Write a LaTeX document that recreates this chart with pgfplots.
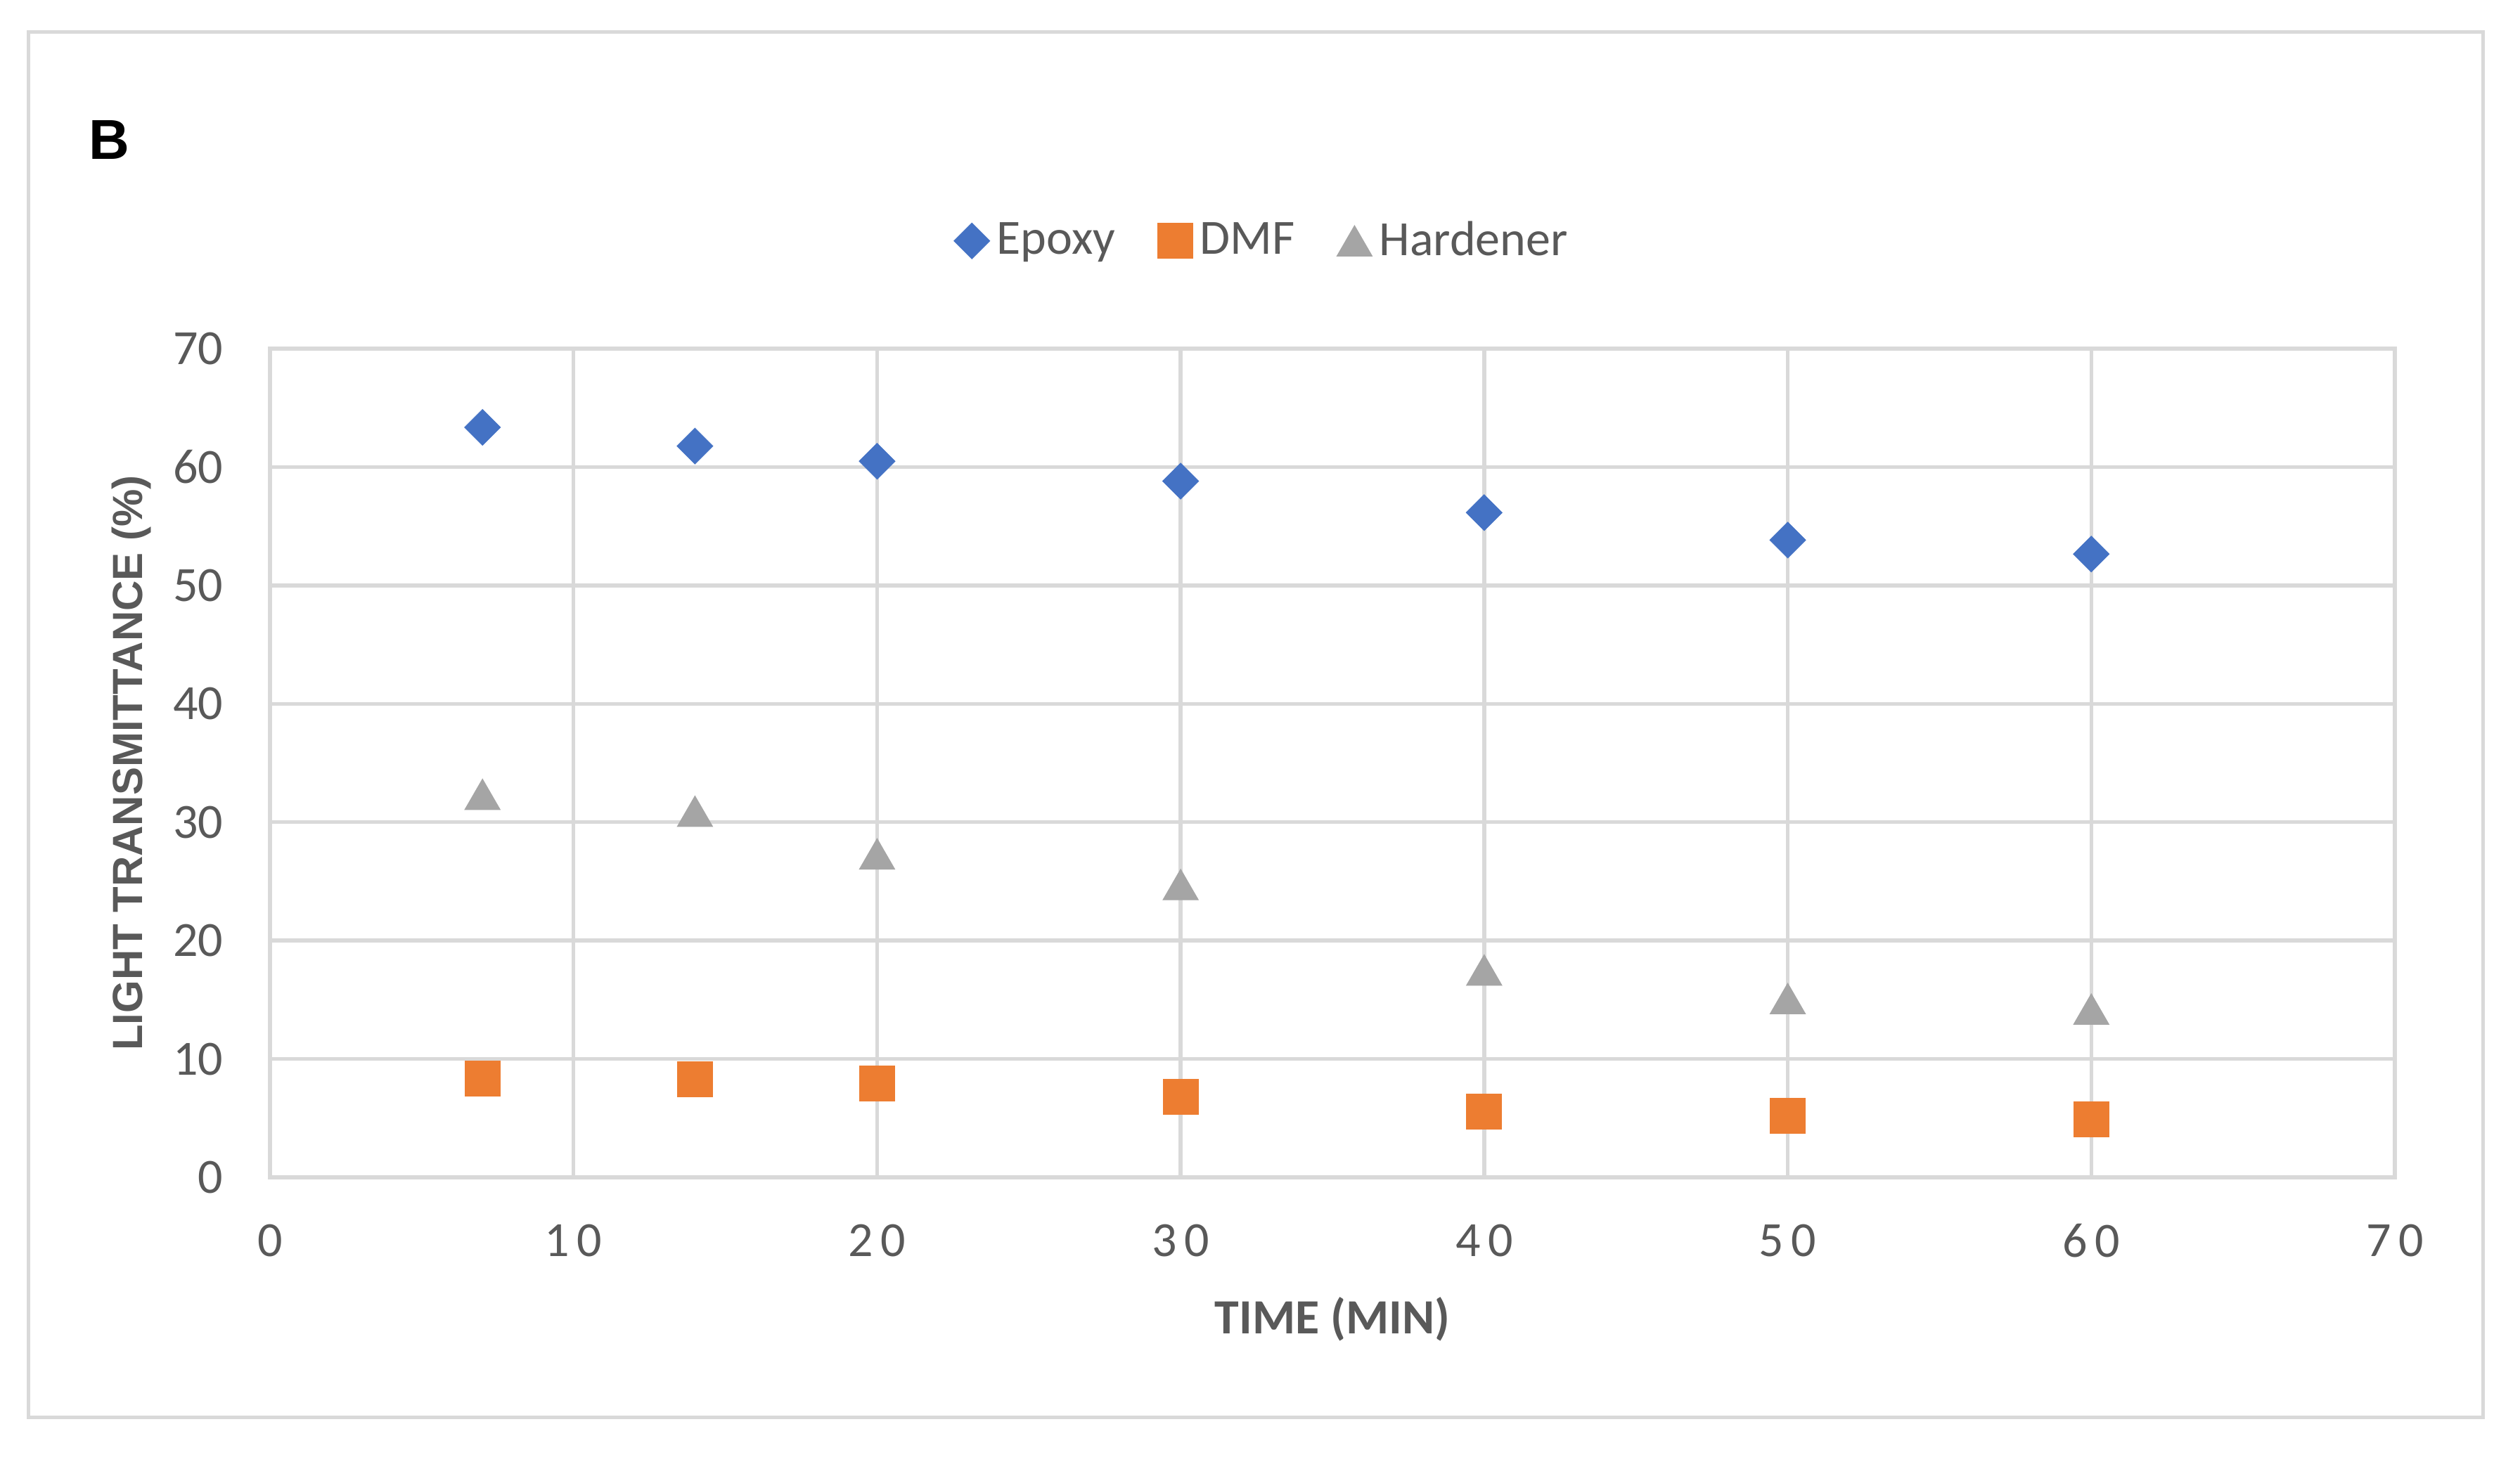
\documentclass[border=0pt]{standalone}
\usepackage{fontspec}
\setmainfont{Carlito}
\newfontfamily\arialfont{Liberation Sans}
\newfontfamily\spacedfont[LetterSpace=15]{Carlito}
\usepackage{pgfplots}
\pgfplotsset{compat=1.18}
\definecolor{cEpoxy}{HTML}{4472C4}
\definecolor{cDMF}{HTML}{ED7D31}
\definecolor{cHard}{HTML}{A5A5A5}
\definecolor{gridc}{HTML}{D9D9D9}
\definecolor{txt}{HTML}{595959}
\begin{document}
\begin{tikzpicture}
\path[use as bounding box] (-76.8pt,-80.8pt) rectangle (640pt,335pt);
\draw[gridc, line width=1pt] (-68.6pt,-68.2pt) rectangle (629.4pt,325.8pt);
\node[font=\arialfont\bfseries\fontsize{16}{19}\selectfont, text=black] at (-45.8pt,295.2pt) {B};
\begin{axis}[
  at={(0,0)}, anchor=south west,
  scale only axis, width=604.4pt, height=235.8pt,
  xmin=0, xmax=70, ymin=0, ymax=70,
  xtick={0,10,...,70}, ytick={0,10,...,70},
  grid=major,
  major grid style={gridc, line width=1.1pt},
  axis line style={gridc, line width=1.1pt},
  tick style={draw=none},
  /pgf/number format/assume math mode=true,
  yticklabel style={font=\fontsize{14}{17}\selectfont, text=txt, anchor=east, inner sep=0pt, xshift=-13.2pt},
  xticklabel style={font=\spacedfont\fontsize{14}{17}\selectfont, text=txt, anchor=center, inner sep=0pt, yshift=-18pt},
  xlabel={TIME (MIN)},
  ylabel={LIGHT TRANSMITTANCE (\%)},
  xlabel style={font=\bfseries\fontsize{14}{17}\selectfont, text=txt, at={(axis description cs:0.5,-0.1713)}, anchor=center},
  ylabel style={font=\arialfont\bfseries\fontsize{12}{14}\selectfont, text=txt, at={(axis description cs:-0.0652,0.5)}, anchor=center},
  legend columns=3,
  legend style={at={(axis description cs:0.468,1.13)}, anchor=center, draw=none, font=\fontsize{14}{17}\selectfont, text=txt,
    /tikz/every even column/.append style={column sep=10pt}},
  legend image code/.code={\draw[mark repeat=2,mark phase=2] plot coordinates {(0pt,0pt)(5.5pt,0pt)(11pt,0pt)};},
]
\addplot[only marks, mark=square*, mark size=3.6pt, mark options={rotate=45, fill=cEpoxy, draw=cEpoxy, line width=0.2pt}]
  coordinates {(7,63.35)(14,61.77)(20,60.49)(30,58.81)(40,56.15)(50,53.83)(60,52.65)};
\addlegendentry{Epoxy}
\addplot[only marks, mark=square*, mark size=5pt, mark options={fill=cDMF, draw=cDMF, line width=0.2pt}]
  coordinates {(7,8.34)(14,8.27)(20,7.9)(30,6.77)(40,5.56)(50,5.17)(60,4.87)};
\addlegendentry{DMF}
\addplot[only marks, mark=triangle*, mark size=5.8pt, mark options={fill=cHard, draw=cHard, line width=0.2pt, yshift=-1.45pt}]
  coordinates {(7,32.35)(14,30.92)(20,27.32)(30,24.73)(40,17.51)(50,15.1)(60,14.21)};
\addlegendentry{Hardener}
\end{axis}
\end{tikzpicture}
\end{document}
